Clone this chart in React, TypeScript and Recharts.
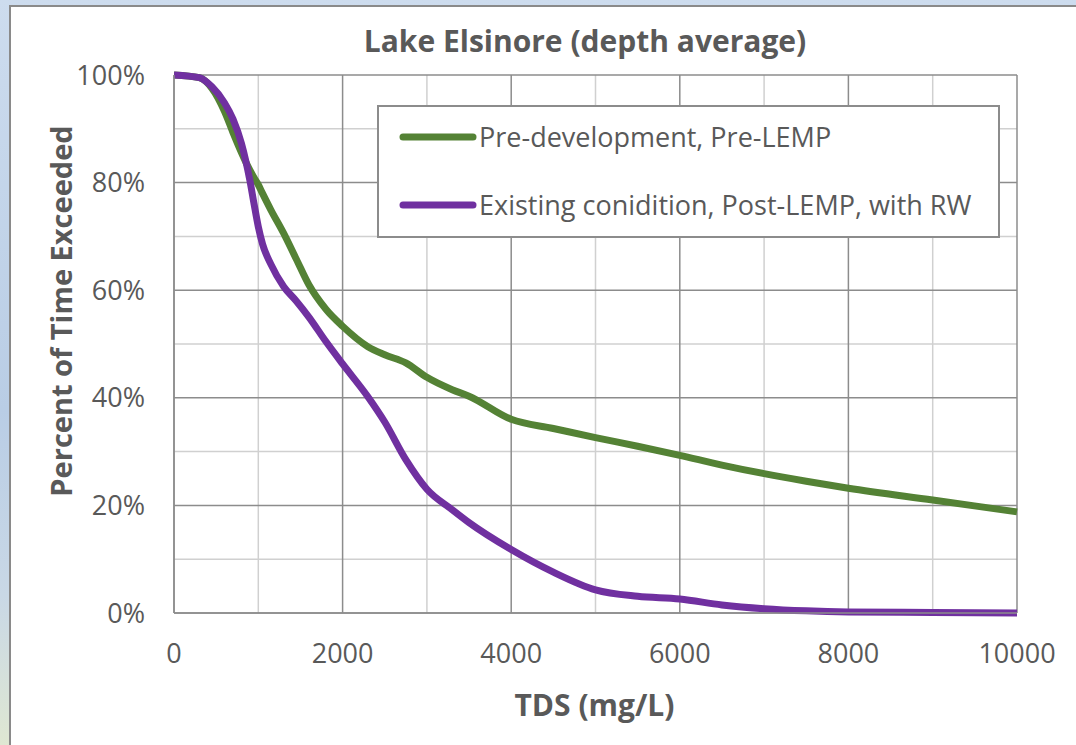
import React from 'react';
import {
  LineChart,
  Line,
  XAxis,
  YAxis,
  CartesianGrid,
  Legend,
  Label,
} from 'recharts';

const tdsValues = [
  0, 300, 450, 600, 700, 800, 900, 950, 1000, 1050, 1150, 1300, 1450, 1600,
  1800, 2000, 2300, 2500, 2750, 3000, 3300, 3500, 4000, 4500, 5000, 5500, 6000,
  6500, 7000, 7500, 8000, 9000, 10000,
];
const preDevelopment = [
  100, 99.5, 97.5, 93.2, 89.3, 85.6, 82.3, 80.9, 79.6, 78, 74.9, 70.6, 65.8,
  61, 56.5, 53.3, 49.5, 48, 46.5, 43.8, 41.5, 40.3, 36, 34.3, 32.6, 31, 29.3,
  27.5, 25.9, 24.5, 23.2, 21, 18.8,
];
const existingCondition = [
  100, 99.5, 97.8, 94.8, 91.8, 87.3, 80.4, 76, 71.8, 68.6, 64.8, 60.7, 58, 55,
  50.5, 46.3, 40.2, 35.5, 28.5, 23, 19.2, 16.8, 11.8, 7.6, 4.3, 3.1, 2.6, 1.5,
  0.8, 0.4, 0.2, 0.1, 0,
];
const seriesNames = [
  'Pre-development, Pre-LEMP',
  'Existing conidition, Post-LEMP, with RW',
];
const xMajorTicks = [0, 2000, 4000, 6000, 8000, 10000];
const xMinorTicks = [1000, 3000, 5000, 7000, 9000];
const yMajorTicks = [0, 20, 40, 60, 80, 100];
const yMinorTicks = [10, 30, 50, 70, 90];

const chartTitle = 'Lake Elsinore (depth average)';
const xTitle = 'TDS (mg/L)';
const yTitle = 'Percent of Time Exceeded';

const data = tdsValues.map((x, i) => ({
  tds: x,
  pre: preDevelopment[i],
  existing: existingCondition[i],
}));

const FONT = '"Open Sans", "DejaVu Sans", sans-serif';
const TEXT = '#595959';
const MAJOR = '#8c8c8c';
const MINOR = '#d0d0d0';
const GREEN = '#548235';
const PURPLE = '#7030a0';

const renderLegend = (props: any) => {
  const payload = [...(props.payload || [])].sort(
    (a: any, b: any) => seriesNames.indexOf(a.value) - seriesNames.indexOf(b.value)
  );
  return (
    <div
      style={{
        position: 'relative',
        width: 623,
        height: 133,
        boxSizing: 'border-box',
        border: '2px solid #8c8c8c',
        background: '#ffffff',
        fontFamily: FONT,
      }}
    >
      {payload.map((entry: any, i: number) => (
        <div
          key={i}
          style={{
            position: 'absolute',
            left: 20,
            top: 10 + i * 68,
            height: 40,
            display: 'flex',
            alignItems: 'center',
            whiteSpace: 'nowrap',
          }}
        >
          <svg width={80} height={40} style={{ display: 'block' }}>
            <line
              x1={4}
              y1={20}
              x2={74}
              y2={20}
              stroke={entry.color}
              strokeWidth={7}
              strokeLinecap="round"
            />
          </svg>
          <span style={{ fontSize: 27, color: TEXT, lineHeight: '40px' }}>
            {entry.value}
          </span>
        </div>
      ))}
    </div>
  );
};

export default function App() {
  return (
    <div
      style={{
        position: 'absolute',
        left: 0,
        top: 0,
        width: 1076,
        height: 745,
        overflow: 'hidden',
        background:
          'linear-gradient(180deg, #cddcee 0%, #b9cde5 55%, #c9d8e6 80%, #dfe7d2 100%)',
      }}
    >
      <div
        style={{
          position: 'absolute',
          left: 9,
          top: 5,
          width: 1100,
          height: 800,
          border: '2px solid #8a8a8a',
          background: '#ffffff',
        }}
      />
      <div
        style={{
          position: 'absolute',
          left: 185,
          top: 26,
          width: 800,
          textAlign: 'center',
          fontFamily: FONT,
          fontWeight: 700,
          fontSize: 30,
          lineHeight: '30px',
          color: TEXT,
          whiteSpace: 'nowrap',
        }}
      >
        {chartTitle}
      </div>
      <div style={{ position: 'absolute', left: 0, top: 0 }}>
        <LineChart
          width={1076}
          height={745}
          data={data}
          margin={{ top: 75, right: 59, bottom: 72, left: 0 }}
        >
          <CartesianGrid
            stroke={MINOR}
            strokeWidth={1.5}
            horizontalValues={yMinorTicks}
            verticalValues={xMinorTicks}
          />
          <CartesianGrid
            stroke={MAJOR}
            strokeWidth={1.5}
            horizontalValues={yMajorTicks}
            verticalValues={xMajorTicks}
          />
          <XAxis
            dataKey="tds"
            type="number"
            domain={[0, 10000]}
            ticks={xMajorTicks}
            height={60}
            tickLine={false}
            tickSize={0}
            tickMargin={31}
            axisLine={{ stroke: MAJOR, strokeWidth: 1.5 }}
            tick={{ fill: TEXT, fontSize: 27, fontFamily: FONT }}
            interval={0}
          >
            <Label
              content={(p: any) => {
                const vb = p.viewBox || { x: 174, y: 613, width: 843 };
                return (
                  <text
                    x={vb.x + vb.width / 2 - 1}
                    y={vb.y + 103}
                    textAnchor="middle"
                    fill={TEXT}
                    fontFamily={FONT}
                    fontWeight={700}
                    fontSize={30}
                  >
                    {xTitle}
                  </text>
                );
              }}
            />
          </XAxis>
          <YAxis
            type="number"
            domain={[0, 100]}
            ticks={yMajorTicks}
            width={174}
            tickLine={false}
            tickSize={0}
            tickMargin={29}
            axisLine={{ stroke: MAJOR, strokeWidth: 1.5 }}
            tick={{ fill: TEXT, fontSize: 27, fontFamily: FONT }}
            tickFormatter={(v: number) => `${v}%`}
            interval={0}
          >
            <Label
              content={(p: any) => {
                const vb = p.viewBox || { x: 0, y: 75, height: 538 };
                const cx = vb.x + 72;
                const cy = vb.y + 236;
                return (
                  <text
                    x={cx}
                    y={cy}
                    transform={`rotate(-90, ${cx}, ${cy})`}
                    textAnchor="middle"
                    fill={TEXT}
                    fontFamily={FONT}
                    fontWeight={700}
                    fontSize={29}
                  >
                    {yTitle}
                  </text>
                );
              }}
            />
          </YAxis>
          <Legend
            layout="vertical"
            align="center"
            verticalAlign="middle"
            content={renderLegend}
            wrapperStyle={{ left: 377, top: 105, width: 623, height: 133 }}
          />
          <Line
            type="monotone"
            dataKey="pre"
            name={seriesNames[0]}
            stroke={GREEN}
            strokeWidth={7}
            dot={false}
            activeDot={false}
            isAnimationActive={false}
          />
          <Line
            type="monotone"
            dataKey="existing"
            name={seriesNames[1]}
            stroke={PURPLE}
            strokeWidth={7}
            dot={false}
            activeDot={false}
            isAnimationActive={false}
          />
        </LineChart>
      </div>
    </div>
  );
}
